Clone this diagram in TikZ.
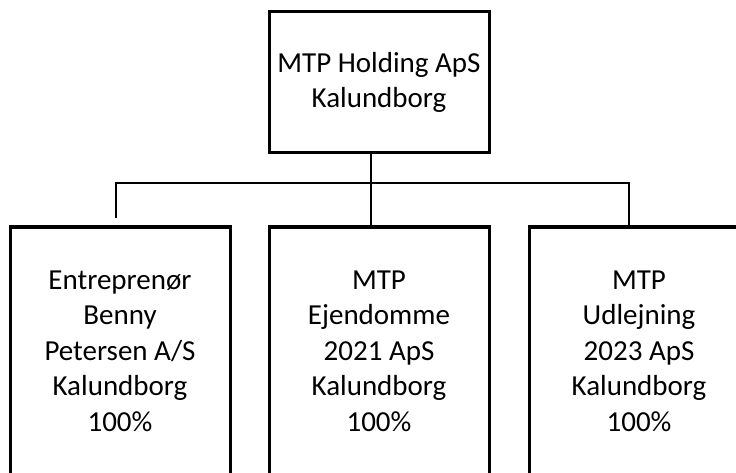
\documentclass[tikz,border=0pt]{standalone}
\usepackage{fontspec}
\setmainfont{Carlito}
\usetikzlibrary{calc}
\tikzset{
	firma/.style={draw,line width=3pt,minimum width=220pt,minimum height=141pt,outer sep=0pt,align=center,inner sep=0pt},
	datter/.style={minimum width=220pt,minimum height=248pt,outer sep=0pt,align=center,inner sep=0pt},
	ramme/.style={line width=3pt},
	streg/.style={line width=1.3pt}
}
\begin{document}
\begin{tikzpicture}[x=1pt,y=-1pt,font=\fontsize{29}{35.5}\selectfont]
	\useasboundingbox (0,0) rectangle (736,473);
	\node[firma] (hold) at (379,82.5) {MTP Holding ApS\\Kalundborg};
	\foreach \nom/\cx/\texte in
	{ent/120/{Entreprenør\\Benny\\Petersen A/S\\Kalundborg\\100\%},
	ejd/379/{MTP\\Ejendomme\\2021 ApS\\Kalundborg\\100\%},
	udl/639/{MTP\\Udlejning\\2023 ApS\\Kalundborg\\100\%}}
		{\node[datter] (\nom) at (\cx,351) {\texte};
		\draw[ramme] (\nom.south west) |- (\nom.north east) -- (\nom.south east);}
	\coordinate (busL) at (116,183);
	\coordinate (busR) at (629,183);
	\draw[streg] ([xshift=-8pt]hold.south) -- ([xshift=-8pt]ejd.north);
	\draw[streg] ([yshift=9pt]busL |- ent.north) -- (busL) -- (busR) -- (busR |- udl.north);
\end{tikzpicture}
\end{document}
